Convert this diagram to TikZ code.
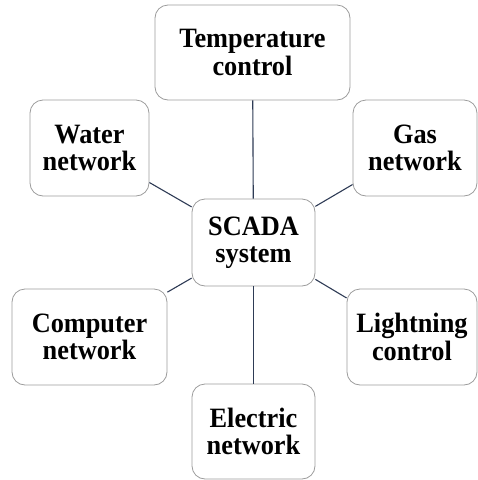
\documentclass[tikz,border=0pt]{standalone}
\usepackage{fontspec}
\setmainfont{Liberation Serif}[FakeStretch=0.94]
\begin{document}
\begin{tikzpicture}[x=1pt,y=-1pt,
  box/.style={draw=boxgray,line width=0.8pt,rounded corners=13pt,fill=white,
    align=center,inner sep=0pt,
    font=\fontsize{28}{27.5}\selectfont\bfseries},
  link/.style={draw=linkcol,line width=1.1pt}]
\definecolor{boxgray}{HTML}{9C9C9C}
\definecolor{linkcol}{HTML}{2E3B55}
\useasboundingbox (0,0) rectangle (478,480);
\node[box,minimum width=195pt,minimum height=95pt] (temp) at (252.5,52.5) {Temperature\\control};
\node[box,minimum width=119pt,minimum height=96pt] (water) at (89.5,148) {Water\\network};
\node[box,minimum width=124pt,minimum height=96pt] (gas) at (415,148) {Gas\\network};
\node[box,minimum width=123pt,minimum height=87pt] (scada) at (253.5,242.5) {SCADA\\system};
\node[box,minimum width=155pt,minimum height=96pt] (comp) at (89.5,337) {Computer\\network};
\node[box,minimum width=130pt,minimum height=96pt] (light) at (412,337) {Lightning\\control};
\node[box,minimum width=123pt,minimum height=95pt] (elec) at (253.5,431.5) {Electric\\network};
\draw[link] (temp) -- (scada);
\draw[link] (water) -- (scada);
\draw[link] (gas) -- (scada);
\draw[link] (comp) -- (scada);
\draw[link] (light) -- (scada);
\draw[link] (elec) -- (scada);
\end{tikzpicture}
\end{document}
